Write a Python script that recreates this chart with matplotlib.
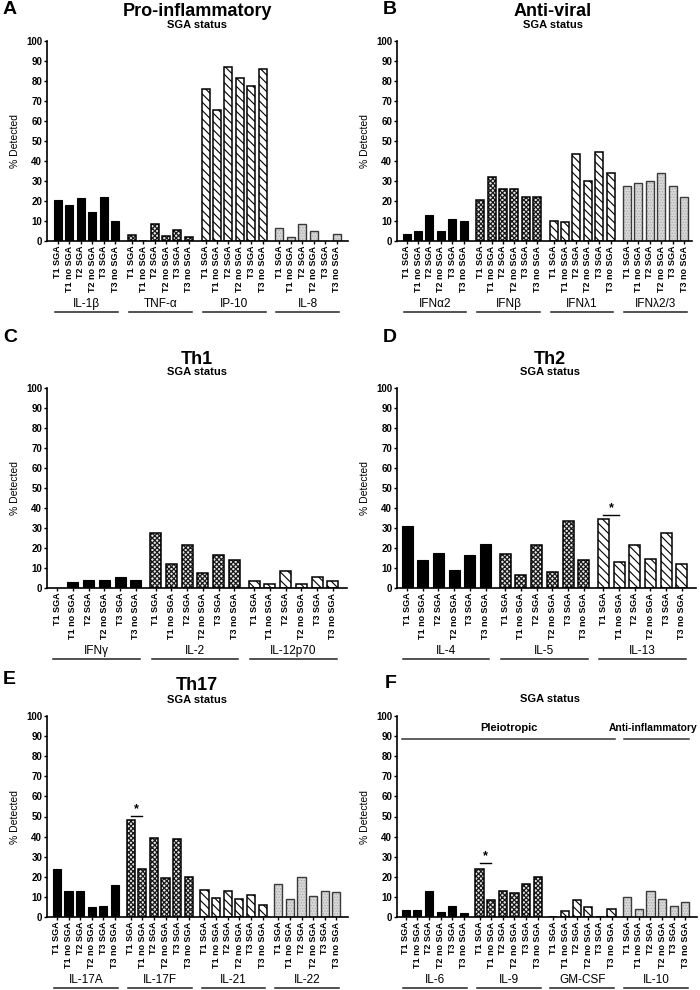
import matplotlib
matplotlib.use("Agg")
import matplotlib.pyplot as plt
import matplotlib.transforms as mtrans

plt.rcParams['font.family'] = ['Liberation Sans', 'DejaVu Sans']
plt.rcParams['hatch.linewidth'] = 0.6

## tick labels shared by every cytokine group
SGA_LABELS = ["T1 SGA", "T1 no SGA", "T2 SGA", "T2 no SGA", "T3 SGA", "T3 no SGA"]

## A - pro-inflammatory
A_GROUPS = ["IL-1\u03b2", "TNF-\u03b1", "IP-10", "IL-8"]
A_IL1B = [20.4, 18.2, 21.4, 14.4, 22.0, 9.8]
A_TNFA = [3.2, 0, 8.7, 2.5, 5.3, 1.8]
A_IP10 = [75.8, 65.4, 86.8, 81.4, 77.6, 85.9]
A_IL8 = [6.6, 2.0, 8.5, 5.0, 0, 3.7]

## B - anti-viral
B_GROUPS = ["IFN\u03b12", "IFN\u03b2", "IFN\u03bb1", "IFN\u03bb2/3"]
B_IFNA2 = [3.3, 5.2, 12.9, 5.1, 11.0, 9.8]
B_IFNB = [20.5, 32.2, 26.0, 26.1, 22.1, 21.9]
B_IFNL1 = [10.1, 9.5, 43.4, 30.2, 44.4, 33.8]
B_IFNL23 = [27.5, 28.8, 30.1, 34.0, 27.5, 21.8]

## C - Th1
C_GROUPS = ["IFN\u03b3", "IL-2", "IL-12p70"]
C_IFNG = [0, 3.0, 4.2, 3.8, 5.5, 3.8]
C_IL2 = [27.5, 11.8, 21.5, 7.7, 16.6, 13.8]
C_IL12 = [3.3, 1.8, 8.5, 2.2, 5.4, 3.7]

## D - Th2
D_GROUPS = ["IL-4", "IL-5", "IL-13"]
D_IL4 = [31.0, 14.1, 17.4, 9.2, 16.7, 22.0]
D_IL5 = [17.0, 6.3, 21.5, 7.8, 33.3, 13.8]
D_IL13 = [34.4, 12.8, 21.5, 14.5, 27.5, 11.8]

## E - Th17
E_GROUPS = ["IL-17A", "IL-17F", "IL-21", "IL-22"]
E_IL17A = [24.1, 12.9, 12.9, 5.0, 5.4, 15.9]
E_IL17F = [48.1, 23.8, 39.1, 19.5, 38.7, 19.8]
E_IL21 = [13.6, 9.5, 12.8, 8.9, 11.0, 5.8]
E_IL22 = [16.5, 8.9, 19.8, 10.2, 13.1, 12.6]

## F - pleiotropic / anti-inflammatory
F_GROUPS = ["IL-6", "IL-9", "GM-CSF", "IL-10"]
F_IL6 = [3.3, 3.3, 12.9, 2.4, 5.4, 1.8]
F_IL9 = [24.1, 8.5, 12.9, 11.8, 16.5, 19.8]
F_GMCSF = [0, 3.0, 8.5, 5.0, 0, 3.8]
F_IL10 = [10.0, 4.0, 12.9, 8.8, 5.3, 7.7]

STYLES = ["black", "checker", "diag", "light"]

W, H = 700, 990
fig = plt.figure(figsize=(7, 9.9), dpi=100)


def add_ax(left, top, right, bottom):
    return fig.add_axes([left / W, 1 - bottom / H, (right - left) / W, (bottom - top) / H])


def draw_bars(ax, x, vals, style):
    if style == "black":
        ax.bar(x, vals, 0.7, color="black", edgecolor="black", linewidth=0.8)
    elif style == "checker":
        with plt.rc_context({'hatch.linewidth': 0.9}):
            ax.bar(x, vals, 0.7, color="#e8e8e8", edgecolor="#1a1a1a", hatch="xxxxxxx", linewidth=0)
        ax.bar(x, vals, 0.7, fill=False, edgecolor="black", linewidth=1.1)
    elif style == "diag":
        with plt.rc_context({'hatch.linewidth': 0.8}):
            ax.bar(x, vals, 0.7, color="white", edgecolor="black", hatch="\\\\\\\\", linewidth=0)
        ax.bar(x, vals, 0.7, fill=False, edgecolor="black", linewidth=1.1)
    else:
        ax.bar(x, vals, 0.7, color="#d8d8d8", edgecolor="#a8a8a8", hatch="......", linewidth=0)
        ax.bar(x, vals, 0.7, fill=False, edgecolor="#3a3a3a", linewidth=1.0)


def panel(ax, groups, series, gap, left_pad, right_pad):
    trans = mtrans.blended_transform_factory(ax.transData, ax.transAxes)
    ticks, labels, centers = [], [], []
    for g, (name, vals) in enumerate(zip(groups, series)):
        x = [i + g * (6 + gap) for i in range(6)]
        draw_bars(ax, x, vals, STYLES[g])
        ticks += x
        labels += SGA_LABELS
        centers.append(x)
        ax.text((x[0] + x[-1]) / 2, -0.315, name, transform=trans, ha="center", va="center",
                fontsize=8.5, clip_on=False)
        ax.plot([x[0] - 0.25, x[-1] + 0.25], [-0.355, -0.355], transform=trans, color="#222222",
                lw=1.1, clip_on=False)
    ax.set_xlim(-left_pad, ticks[-1] + right_pad)
    ax.set_ylim(0, 100)
    ax.set_yticks(range(0, 101, 10))
    ax.set_xticks(ticks)
    ax.set_xticklabels(labels, rotation=90, fontsize=6.5, fontweight="bold")
    for t in ax.get_yticklabels():
        t.set_fontweight("bold")
        t.set_fontsize(7)
    ax.tick_params(axis="both", direction="out", length=2.5, width=1, pad=1)
    ax.spines["top"].set_visible(False)
    ax.spines["right"].set_visible(False)
    ax.spines["left"].set_linewidth(1.2)
    ax.spines["bottom"].set_linewidth(1.2)
    ax.set_ylabel("% Detected", fontsize=7.5, labelpad=4)
    return centers


def star(ax, x0, x1, y):
    ax.plot([x0, x1], [y, y], color="black", lw=1)
    ax.text((x0 + x1) / 2, y + 0.5, "*", ha="center", va="bottom", fontsize=9, fontweight="bold")


def heading(xc, y_title, y_sub, title):
    if title:
        fig.text(xc / W, 1 - y_title / H, title, ha="center", va="center", fontsize=13,
                 fontweight="bold")
    fig.text(xc / W, 1 - y_sub / H, "SGA status", ha="center", va="center", fontsize=8,
             fontweight="bold")


def letter(x, y, s):
    fig.text(x / W, 1 - y / H, s, ha="left", va="center", fontsize=14, fontweight="bold")


axA = add_ax(47, 41, 348, 241)
panel(axA, A_GROUPS, [A_IL1B, A_TNFA, A_IP10, A_IL8], 0.45, 0.95, 1.0)
axB = add_ax(397, 41, 692, 241)
panel(axB, B_GROUPS, [B_IFNA2, B_IFNB, B_IFNL1, B_IFNL23], 0.45, 0.85, 0.7)

axC = add_ax(47, 388, 347, 588)
panel(axC, C_GROUPS, [C_IFNG, C_IL2, C_IL12], 0.25, 0.64, 0.9)
axD = add_ax(397, 388, 696, 588)
cD = panel(axD, D_GROUPS, [D_IL4, D_IL5, D_IL13], 0.25, 0.64, 0.9)
star(axD, cD[2][0], cD[2][1], 36.5)

axE = add_ax(47, 716, 348, 917)
cE = panel(axE, E_GROUPS, [E_IL17A, E_IL17F, E_IL21, E_IL22], 0.35, 0.85, 1.0)
star(axE, cE[1][0], cE[1][1], 50.4)
axF = add_ax(397, 716, 697, 917)
cF = panel(axF, F_GROUPS, [F_IL6, F_IL9, F_GMCSF, F_IL10], 0.35, 0.75, 1.0)
star(axF, cF[1][0], cF[1][1], 26.8)

# category bars over panel F
axF.plot([cF[0][0] - 0.3, cF[2][-1] + 0.3], [88.5, 88.5], color="#333333", lw=1.1, clip_on=False)
axF.text((cF[0][0] + cF[2][-1]) / 2, 91.5, "Pleiotropic", ha="center", va="bottom", fontsize=8,
         fontweight="bold")
axF.plot([cF[3][0] - 0.3, cF[3][-1] + 0.3], [88.5, 88.5], color="#333333", lw=1.1, clip_on=False)
axF.text((cF[3][0] + cF[3][-1]) / 2 - 0.3, 91.5, "Anti-inflammatory", ha="center", va="bottom",
         fontsize=7.4, fontweight="bold", clip_on=False)

heading(197, 11, 25, "Pro-inflammatory")
heading(553, 11, 25, "Anti-viral")
heading(197, 359, 372, "Th1")
heading(550, 359, 372, "Th2")
heading(197, 686, 700, "Th17")
heading(550, 686, 699, None)

letter(3, 10, "A")
letter(383, 10, "B")
letter(3, 337, "C")
letter(383, 337, "D")
letter(3, 679, "E")
letter(385, 683, "F")

fig.savefig("out.png", dpi=100)
